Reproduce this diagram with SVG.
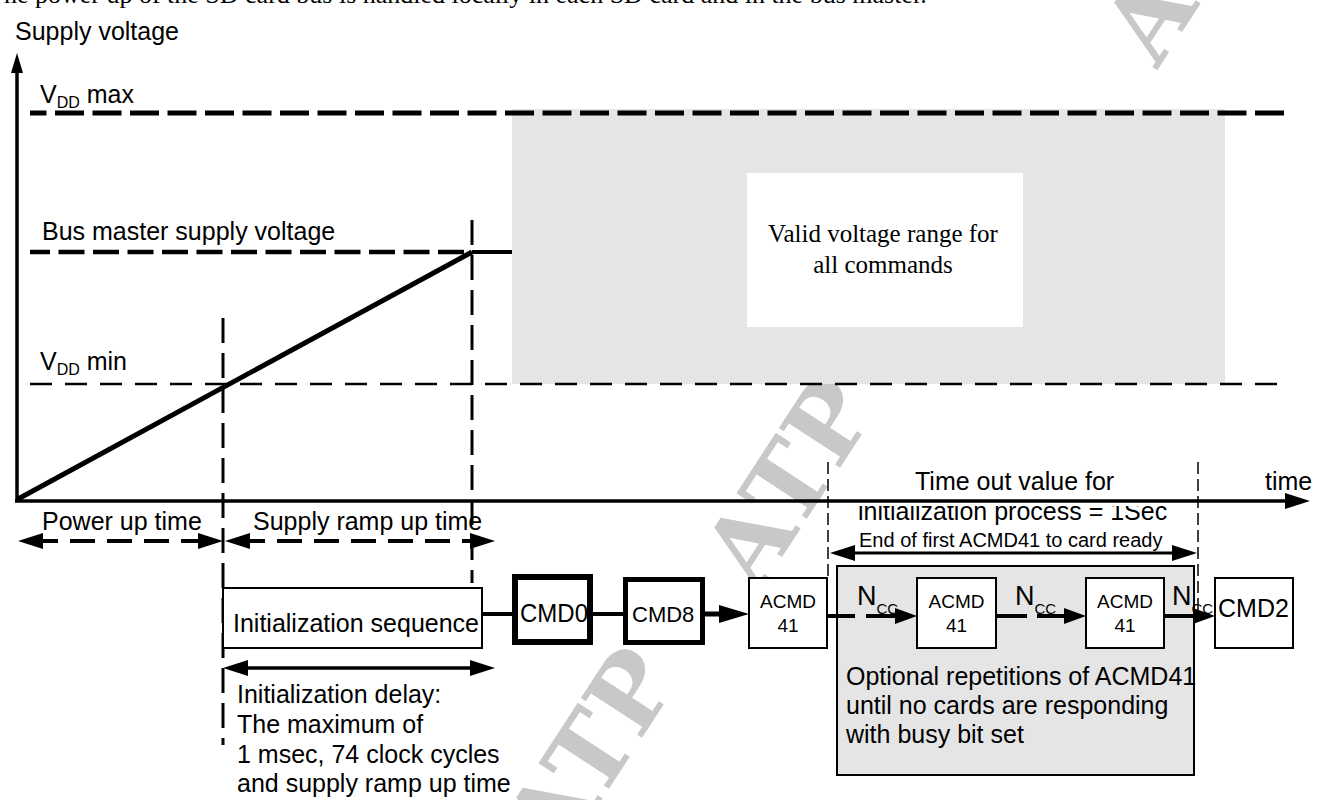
<svg xmlns="http://www.w3.org/2000/svg" width="1321" height="800" viewBox="0 0 1321 800">
<style>
.t{font-family:"Liberation Sans",Arial,sans-serif;font-size:25px;fill:#000}
.sub{font-size:16px}
.subn{font-size:15px}
.f20{font-size:20px}
.f22{font-size:22px}
.f27{font-size:27px}
.sm{font-family:"Liberation Sans",Arial,sans-serif;font-size:19px;fill:#000}
.serif{font-family:"Liberation Serif","Times New Roman",serif;font-size:25px;fill:#000}
.cap{font-size:26px}
.wm{font-family:"DejaVu Serif",serif;font-weight:bold;font-size:100px;fill:#c8c8c8}
.ln{stroke:#000;fill:none}
.box{fill:#fff;stroke:#000;stroke-width:2}
.gray{fill:#e5e5e5}
</style>
<defs>
<marker id="arr" viewBox="0 0 25 16" refX="10" refY="8" markerWidth="25" markerHeight="16" markerUnits="userSpaceOnUse" orient="auto-start-reverse"><path d="M0,0 L25,8 L0,16 z" fill="#000"/></marker>
<marker id="arrY" viewBox="0 0 20 12" refX="8" refY="6" markerWidth="20" markerHeight="12" markerUnits="userSpaceOnUse" orient="auto-start-reverse"><path d="M0,0 L20,6 L0,12 z" fill="#000"/></marker>
<marker id="arrB" viewBox="0 0 30 18" refX="12" refY="9" markerWidth="30" markerHeight="18" markerUnits="userSpaceOnUse" orient="auto-start-reverse"><path d="M0,0 L30,9 L0,18 z" fill="#000"/></marker>
<marker id="arrS" viewBox="0 0 22 16" refX="10" refY="8" markerWidth="22" markerHeight="16" markerUnits="userSpaceOnUse" orient="auto-start-reverse"><path d="M0,0 L22,8 L0,16 z" fill="#000"/></marker>
<clipPath id="clipInit"><rect x="840" y="506" width="400" height="30"/></clipPath>
</defs>
<rect width="1321" height="800" fill="#fff"/>

<!-- cut-off caption line at the top -->
<text class="serif cap" x="-12" y="3">The power up of the SD card bus is handled locally in each SD card and in the bus master.</text>

<!-- watermark -->
<g id="watermark">
<text class="wm" text-anchor="middle" transform="translate(788,482) rotate(-57)" y="36">ATP</text>
<text class="wm" text-anchor="middle" transform="translate(590,752) rotate(-57)" y="36">ATP</text>
<text class="wm" text-anchor="middle" transform="translate(1188,-43) rotate(-57)" y="36">ATP</text>
</g>

<!-- valid voltage region -->
<g id="valid-region">
<rect class="gray" x="512" y="109" width="713" height="275"/>
<rect x="747" y="173" width="276" height="154" fill="#fff"/>
<text class="serif" text-anchor="middle" x="883" y="242">Valid voltage range for</text>
<text class="serif" text-anchor="middle" x="883" y="273">all commands</text>
</g>

<!-- level lines -->
<g id="levels">
<line class="ln" x1="30" y1="113" x2="1284" y2="113" stroke-width="5" stroke-dasharray="29 8.5" stroke-dashoffset="12.5"/>
<line class="ln" x1="30" y1="252" x2="472" y2="252" stroke-width="4.5" stroke-dasharray="26 8.5" stroke-dashoffset="6"/>
<line class="ln" x1="30" y1="384" x2="1284" y2="384" stroke-width="2.5" stroke-dasharray="22 13"/>
<line class="ln" x1="472" y1="252" x2="512" y2="252" stroke-width="4"/>
<text class="t" x="40" y="103">V<tspan class="sub" dy="5">DD</tspan><tspan dy="-5"> max</tspan></text>
<text class="t" x="42" y="240">Bus master supply voltage</text>
<text class="t" x="40" y="370">V<tspan class="sub" dy="5">DD</tspan><tspan dy="-5"> min</tspan></text>
</g>

<!-- axes -->
<g id="axes">
<line class="ln" x1="17" y1="501" x2="17" y2="65" stroke-width="3.5" marker-end="url(#arrY)"/>
<line class="ln" x1="15" y1="501" x2="1295" y2="501" stroke-width="3.5" marker-end="url(#arr)"/>
<text class="t" x="15" y="40">Supply voltage</text>
<text class="t" x="1265" y="490">time</text>
</g>

<!-- supply ramp -->
<g id="ramp">
<line class="ln" x1="18" y1="499" x2="472" y2="252" stroke-width="5"/>
</g>

<!-- timing markers -->
<g id="timing">
<line class="ln" x1="223" y1="318" x2="223" y2="745" stroke-width="3" stroke-dasharray="25 10"/>
<line class="ln" x1="472" y1="220" x2="472" y2="583" stroke-width="3" stroke-dasharray="25 10"/>
<line class="ln" x1="828" y1="462" x2="828" y2="578" stroke-width="1.5" stroke-dasharray="12 5"/>
<line class="ln" x1="1198" y1="462" x2="1198" y2="620" stroke-width="1.5" stroke-dasharray="12 5"/>
<line class="ln" x1="33" y1="541" x2="208" y2="541" stroke-width="4" stroke-dasharray="25 12" marker-start="url(#arr)" marker-end="url(#arr)"/>
<line class="ln" x1="240" y1="541" x2="480" y2="541" stroke-width="4" stroke-dasharray="25 12" marker-start="url(#arr)" marker-end="url(#arr)"/>
<text class="t" x="42" y="530">Power up time</text>
<text class="t" x="253" y="530">Supply ramp up time</text>
<line class="ln" x1="238" y1="668" x2="480" y2="668" stroke-width="3.5" marker-start="url(#arr)" marker-end="url(#arr)"/>
<text class="t" x="237" y="703">Initialization delay:</text>
<text class="t" x="237" y="733">The maximum of</text>
<text class="t" x="237" y="763">1 msec, 74 clock cycles</text>
<text class="t" x="237" y="792">and supply ramp up time</text>
<text class="t" x="915" y="490">Time out value for</text>
<text class="t" x="858" y="520" clip-path="url(#clipInit)">initialization process = 1Sec</text>
<line class="ln" x1="845" y1="553" x2="1182" y2="553" stroke-width="3" marker-start="url(#arr)" marker-end="url(#arr)"/>
<text class="t f20" x="859" y="547">End of first ACMD41 to card ready</text>
</g>

<!-- optional repetitions area -->
<g id="optional">
<rect x="837" y="566" width="357" height="209" fill="#e5e5e5" stroke="#000" stroke-width="2"/>
<text class="t" x="846" y="685">Optional repetitions of ACMD41</text>
<text class="t" x="846" y="714">until no cards are responding</text>
<text class="t" x="846" y="743">with busy bit set</text>
</g>

<!-- connectors -->
<g id="connectors">
<line class="ln" x1="482" y1="614" x2="513" y2="614" stroke-width="4"/>
<line class="ln" x1="592" y1="614" x2="624" y2="614" stroke-width="4"/>
<line class="ln" x1="705" y1="614" x2="731" y2="614" stroke-width="5" marker-end="url(#arrB)"/>
<line class="ln" x1="828" y1="616" x2="855" y2="616" stroke-width="4"/>
<line class="ln" x1="866" y1="616" x2="905" y2="616" stroke-width="4" marker-end="url(#arrS)"/>
<line class="ln" x1="996" y1="616" x2="1027" y2="616" stroke-width="4"/>
<line class="ln" x1="1037" y1="616" x2="1074" y2="616" stroke-width="4" marker-end="url(#arrS)"/>
<line class="ln" x1="1164" y1="616" x2="1203" y2="616" stroke-width="4" marker-end="url(#arrS)"/>
<text class="t f27" x="857" y="605">N<tspan class="subn" dy="9">CC</tspan></text>
<text class="t f27" x="1015" y="605">N<tspan class="subn" dy="9">CC</tspan></text>
<text class="t f27" x="1172" y="605">N<tspan class="subn" dy="9">CC</tspan></text>
</g>

<!-- nodes -->
<g id="init-seq">
<rect class="box" x="223" y="588" width="259" height="60"/>
<text class="t" x="233" y="632">Initialization sequence</text>
</g>
<g id="cmd0">
<rect x="515" y="577" width="75" height="65" fill="#fff" stroke="#000" stroke-width="6"/>
<text class="t" x="520" y="622" textLength="68" lengthAdjust="spacingAndGlyphs">CMD0</text>
</g>
<g id="cmd8">
<rect x="625.5" y="579.5" width="77" height="63" fill="#fff" stroke="#000" stroke-width="5"/>
<text class="t f22" x="632" y="622">CMD8</text>
</g>
<g id="acmd41-1">
<rect class="box" x="749" y="578" width="78" height="70"/>
<text class="sm" text-anchor="middle" x="788" y="608">ACMD</text>
<text class="sm" text-anchor="middle" x="788" y="632">41</text>
</g>
<g id="acmd41-2">
<rect class="box" x="917" y="578" width="79" height="70"/>
<text class="sm" text-anchor="middle" x="956.5" y="608">ACMD</text>
<text class="sm" text-anchor="middle" x="956.5" y="632">41</text>
</g>
<g id="acmd41-3">
<rect class="box" x="1086" y="578" width="78" height="70"/>
<text class="sm" text-anchor="middle" x="1125" y="608">ACMD</text>
<text class="sm" text-anchor="middle" x="1125" y="632">41</text>
</g>
<g id="cmd2">
<rect class="box" x="1215" y="578" width="78" height="70"/>
<text class="t" x="1218" y="617">CMD2</text>
</g>
</svg>
